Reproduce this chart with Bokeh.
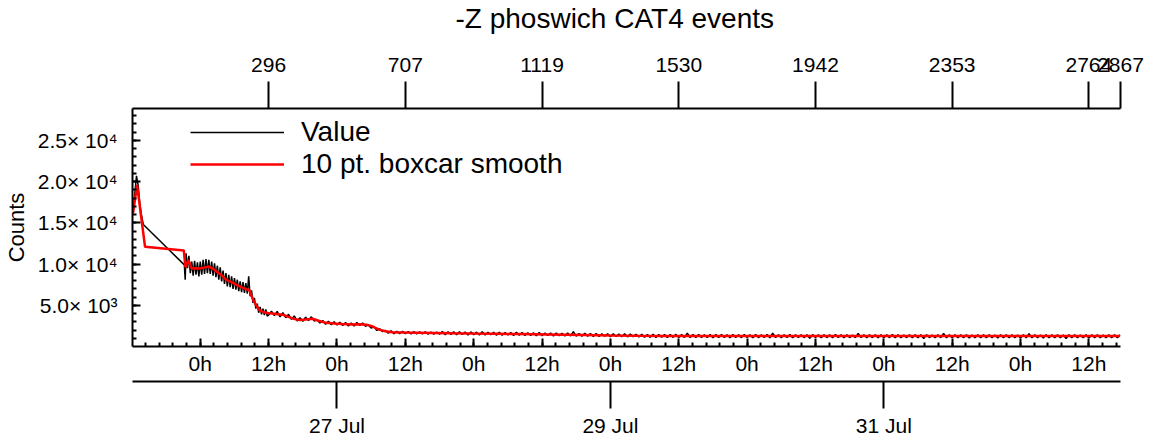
import numpy as np
from bokeh.plotting import figure
from bokeh.models import Range1d, LinearAxis, FixedTicker, Legend, LegendItem, Title
from bokeh.embed import file_html
from bokeh.resources import INLINE

# ---------------- data (hours since 25 Jul 00:00) ----------------
x_start, x_end = 12.1, 185.55
y_start, y_end = 0, 28870

# raw "Value" series: a few samples before the data gap
early_hours = [12.2, 12.5, 12.8, 13.1, 13.4, 13.7, 14.0, 21.2, 21.35]
early_counts = [16200, 18500, 20700, 19500, 17200, 15800, 14800, 9900, 8100]

# densely sampled part right after the gap
dense_start = 21.5
dense_step = 0.25
dense_counts = [
    11300, 9500, 11000, 8900, 10300, 8600, 10400, 8700, 10200, 8500,
    10300, 8700, 10500, 8800, 10600, 8900, 10500, 8800, 10300, 8600,
    10100, 8400, 9800, 8100, 9600, 7900, 9200, 7600, 8900, 7300,
    8700, 7200, 8500, 7000, 8300, 6900, 8100, 6700, 7900, 6600,
    7800, 6500, 7700, 6400, 8500, 6100, 6800, 5300, 5900, 4600,
    5200, 4100, 4800, 3900, 4600, 3800, 4500, 3700,
]

# regularly sampled remainder
grid_start = 36.0
grid_step = 0.5
grid_counts = [
    3800,
    4300, 3750, 4250, 3600, 4100, 3500, 3900, 3300, 3700, 3100,
    3500, 3050, 3550, 3150, 3600, 3100, 3250, 2850, 3150, 2700,
    3050, 2650, 3000, 2600, 2950, 2550, 2900, 2500, 2850, 2500,
    2900, 2550, 2850, 2450, 2650, 2250, 2400, 1950, 2150, 1800,
    1950, 1620, 1900, 1550, 1850, 1560, 1840, 1550, 1820, 1540,
    1800, 1530, 1790, 1520, 1780, 1500, 1760, 1510, 1750, 1500,
    1810, 1440, 1790, 1470, 1780, 1420, 1800, 1450, 1760, 1410,
    1770, 1440, 1740, 1390, 1790, 1400, 1730, 1420, 1720, 1380,
    1740, 1360, 1700, 1400, 1690, 1350, 1720, 1370, 1680, 1340,
    1670, 1350, 1650, 1310, 1690, 1320, 1640, 1340, 1630, 1290,
    1640, 1300, 1600, 1270, 1620, 1280, 1790, 1260, 1580, 1240,
    1590, 1260, 1560, 1220, 1580, 1230, 1540, 1240, 1550, 1200,
    1530, 1220, 1510, 1190, 1540, 1170, 1500, 1200, 1480, 1150,
    1470, 1120, 1460, 1110, 1480, 1100, 1450, 1130, 1460, 1090,
    1450, 1110, 1470, 1090, 1440, 1100, 1620, 1090, 1450, 1080,
    1450, 1080, 1430, 1100, 1450, 1070, 1440, 1090, 1460, 1080,
    1430, 1070, 1450, 1100, 1420, 1080, 1440, 1090, 1410, 1070,
    1440, 1080, 1420, 1100, 1450, 1060, 1610, 1090, 1430, 1070,
    1420, 1100, 1440, 1070, 1410, 1090, 1430, 1080, 1420, 990,
    1440, 1090, 1410, 1060, 1430, 1080, 1420, 1070, 1450, 1090,
    1410, 1060, 1430, 1080, 1400, 1070, 1600, 1090, 1420, 1060,
    1410, 1080, 1430, 1070, 1420, 1050, 1410, 1080, 1440, 1070,
    1420, 1060, 1400, 1080, 1430, 1050, 1410, 1070, 1420, 980,
    1430, 1080, 1400, 1050, 1420, 1070, 1590, 1060, 1410, 1050,
    1420, 1070, 1410, 1060, 1430, 1040, 1400, 1070, 1420, 1060,
    1410, 1050, 1430, 1070, 1400, 1040, 1420, 1060, 1410, 1050,
    1430, 1070, 1400, 1040, 1420, 1060, 1570, 1050, 1410, 1060,
    1400, 1040, 1420, 1070, 1410, 1050, 1430, 1060, 1400, 970,
    1420, 1060, 1410, 1050, 1400, 1070, 1430, 1040, 1410, 1060,
    1420, 1050, 1400, 1070, 1410, 1050, 1420, 1060, 1410,
]

# "10 pt. boxcar smooth" series
smooth_hours = [12.2, 12.9, 14.3, 21.1, 21.4, 21.9, 22.5, 23.2, 24.0, 24.8,
                25.5, 26.2, 26.9, 27.8, 28.6, 29.5, 30.4, 31.4, 32.1, 32.6,
                33.3, 33.9, 34.4, 35.2, 36.2, 37.3, 38.5, 39.5, 40.4, 41.4,
                42.5, 43.7, 44.9, 46.1, 47.5, 48.9, 50.7, 52.0, 53.1, 54.2,
                55.4, 56.5, 57.7, 60.0, 62.5, 65.0, 68.3, 72.0, 76.0, 80.0,
                85.0, 91.6, 96.0, 100.9, 105.0, 110.0, 115.0, 120.0, 125.0, 130.0,
                135.0, 140.0, 145.0, 150.0, 155.0, 160.0, 165.0, 170.0, 175.0, 180.0,
                185.5]
smooth_counts = [16200, 19600, 12100, 11650, 9600, 10500, 9450, 9500, 9470, 9600,
                 9700, 9450, 9080, 8600, 8050, 7800, 7460, 7150, 6950, 6850,
                 5630, 4900, 4420, 4150, 4020, 3950, 3850, 3600, 3350, 3210,
                 3280, 3370, 3100, 2870, 2800, 2740, 2680, 2700, 2650, 2450,
                 2050, 1850, 1730, 1690, 1670, 1640, 1600, 1570, 1540, 1510,
                 1460, 1390, 1330, 1290, 1285, 1280, 1278, 1275, 1273, 1272,
                 1270, 1270, 1268, 1268, 1266, 1266, 1265, 1265, 1264, 1264,
                 1263]

# ---------------- tick labels ----------------
hour_ticks = [24, 36, 48, 60, 72, 84, 96, 108, 120, 132, 144, 156, 168, 180]
hour_labels = ["0h", "12h"] * 7
date_ticks = [48, 96, 144]
date_labels = ["27 Jul", "29 Jul", "31 Jul"]
index_ticks = [36, 60, 84, 108, 132, 156, 180, 185.55]
index_labels = ["296", "707", "1119", "1530", "1942", "2353", "2764", "2867"]
count_ticks = [5000, 10000, 15000, 20000, 25000]
count_labels = ["5.0\u00d7 10\u00b3", "1.0\u00d7 10\u2074", "1.5\u00d7 10\u2074",
                "2.0\u00d7 10\u2074", "2.5\u00d7 10\u2074"]

value_hours = (early_hours
               + [dense_start + dense_step * i for i in range(len(dense_counts))]
               + [grid_start + grid_step * i for i in range(len(grid_counts))])
value_counts = early_counts + dense_counts + grid_counts

FONT = "Liberation Sans"

p = figure(frame_width=988, frame_height=238,
           x_range=Range1d(x_start, x_end), y_range=Range1d(y_start, y_end),
           x_axis_type=None, y_axis_type=None,
           output_backend="svg", toolbar_location=None)
p.min_border_left = 124
p.min_border_right = 24
p.min_border_top = 0
p.min_border_bottom = 0
p.outline_line_color = None
p.background_fill_color = "white"
p.border_fill_color = "white"

p.title = Title(text="-Z phoswich CAT4 events", align="left", offset=323,
                vertical_align="top",
                text_font=FONT, text_font_size="28px", text_font_style="normal",
                text_color="black", standoff=4)

def style_axis(ax, tin, tout, minin=0):
    ax.axis_line_color = "black"
    ax.axis_line_width = 2
    ax.major_tick_line_color = "black"
    ax.major_tick_line_width = 2
    ax.minor_tick_line_color = "black"
    ax.minor_tick_line_width = 2
    ax.major_tick_in = tin
    ax.major_tick_out = tout
    ax.minor_tick_in = minin
    ax.minor_tick_out = 0
    ax.major_label_text_font = FONT
    ax.major_label_text_font_size = "21px"
    ax.major_label_text_color = "black"

minor_hours = [round(v, 2) for v in np.arange(12.0, 186.0, 2.4)]
ax_b1 = LinearAxis(ticker=FixedTicker(ticks=hour_ticks, minor_ticks=minor_hours),
                   major_label_overrides=dict(zip(hour_ticks, hour_labels)))
style_axis(ax_b1, 8, 0, 4)
ax_b1.major_label_standoff = 5
ax_b1.axis_label = " "
ax_b1.axis_label_text_font_size = "1px"
ax_b1.axis_label_standoff = 0
p.add_layout(ax_b1, "below")

ax_b2 = LinearAxis(ticker=FixedTicker(ticks=date_ticks, minor_ticks=[]),
                   major_label_overrides=dict(zip(date_ticks, date_labels)))
style_axis(ax_b2, 0, 27)
ax_b2.major_label_standoff = 5
p.add_layout(ax_b2, "below")

ax_t = LinearAxis(ticker=FixedTicker(ticks=index_ticks, minor_ticks=[]),
                  major_label_overrides=dict(zip(index_ticks, index_labels)))
style_axis(ax_t, 0, 27)
ax_t.major_label_standoff = 10
ax_t.axis_label = " "
ax_t.axis_label_text_font_size = "2px"
ax_t.axis_label_standoff = 12
p.add_layout(ax_t, "above")

count_minor = list(range(1000, 29000, 1000))
ax_l = LinearAxis(ticker=FixedTicker(ticks=count_ticks, minor_ticks=count_minor),
                  major_label_overrides=dict(zip(count_ticks, count_labels)),
                  axis_label="Counts")
style_axis(ax_l, 8, 0, 4)
ax_l.major_label_standoff = 15
ax_l.axis_label_text_font = FONT
ax_l.axis_label_text_font_size = "22px"
ax_l.axis_label_text_font_style = "normal"
ax_l.axis_label_text_color = "black"
ax_l.axis_label_standoff = 6
p.add_layout(ax_l, "left")

r_val = p.line(value_hours, value_counts, line_color="black", line_width=1.5)
r_sm = p.line(smooth_hours, smooth_counts, line_color="red", line_width=2.5)

legend = Legend(items=[LegendItem(label="Value", renderers=[r_val]),
                       LegendItem(label="10 pt. boxcar smooth", renderers=[r_sm])],
                location=(58, 166), margin=0, padding=0, spacing=-2,
                glyph_width=94, glyph_height=28, label_height=28, label_standoff=17,
                label_text_font=FONT, label_text_font_size="28px",
                label_text_color="black",
                border_line_color=None, background_fill_alpha=0)
p.add_layout(legend)

open("out.html", "w").write(file_html(p, INLINE))
